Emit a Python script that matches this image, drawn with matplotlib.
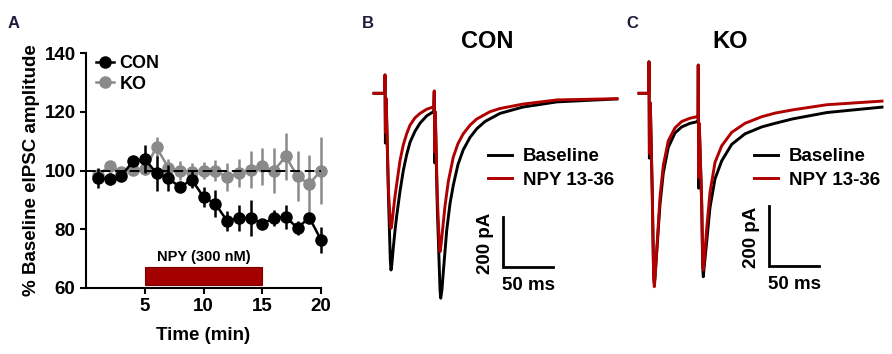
import matplotlib
matplotlib.use("Agg")
from matplotlib import pyplot as plt
from matplotlib.patches import Rectangle
from matplotlib.lines import Line2D

plt.rcParams['font.family'] = ['Liberation Sans', 'DejaVu Sans']
plt.rcParams['font.weight'] = 'bold'

# panel A: time course (% baseline eIPSC amplitude)
minutes = list(range(1, 21))
con_mean = [97.4, 97.2, 98.2, 103.1, 103.9, 99.1, 97.4, 94.3, 96.9, 91.0,
            88.7, 82.9, 83.8, 83.8, 81.9, 83.8, 84.2, 80.4, 84.0, 76.4]
con_sem = [3.4, 2.0, 1.0, 1.5, 4.8, 6.0, 4.5, 1.7, 3.0, 3.4,
           4.5, 3.4, 4.3, 6.2, 1.0, 2.8, 4.0, 2.5, 1.5, 4.5]
ko_mean = [98.5, 101.4, 99.5, 100.3, 100.5, 107.9, 101.0, 100.0, 99.5, 100.0,
           100.0, 97.7, 99.1, 100.3, 101.4, 100.0, 104.8, 98.0, 95.4, 100.0]
ko_sem = [2.0, 1.0, 1.0, 1.5, 2.0, 3.4, 3.0, 3.4, 3.0, 3.0,
          3.7, 4.8, 4.8, 6.2, 6.2, 7.7, 8.0, 8.5, 10.0, 11.3]
drug_start, drug_end = 5, 15
drug_label = "NPY (300 nM)"

# panel B: CON example traces (time in ms, current in pA)
con_base_t = [-11, -0.3, 0, 0.4, 0.9, 1.5, 3.5, 5.3, 6, 6.8, 8.3, 10, 11.7, 15, 18.3, 21.7,
              25, 30, 35, 41.7, 48.8, 49.3, 49.7, 50.3, 52.3, 55, 55.7, 57, 58.3, 61.7,
              65, 68.3, 73, 78.3, 85, 91.7, 100, 115, 138, 172, 232]
con_base = [0, 0, 75, -203, -20, -80, -430, -680, -721, -700, -630, -560, -500, -400, -315, -250,
            -200, -155, -122, -92, -74, 7, -284, -90, -470, -800, -836, -800, -730, -560,
            -450, -375, -290, -230, -180, -145, -115, -82, -56, -35, -23]
con_npy_t = [-11, -0.3, 0, 0.4, 0.9, 1.5, 3.5, 5.3, 6, 6.8, 8.3, 10, 11.7, 15, 18.3, 21.7,
             25, 30, 35, 41.7, 48.8, 49.3, 49.7, 50.3, 52.3, 54.3, 55, 56, 57.5, 60,
             63.3, 68.3, 73, 78.3, 85, 91.7, 105, 115, 138, 172, 232]
con_npy = [0, 0, 75, -160, -20, -80, -400, -530, -551, -535, -480, -420, -370, -275, -210, -165,
           -130, -100, -82, -65, -55, 10, -240, -75, -420, -620, -646, -620, -560, -460,
           -360, -260, -205, -165, -130, -105, -75, -62, -44, -27, -22]

# panel C: KO example traces (time in ms, current in pA)
ko_t = [-10, -0.3, 0, 0.4, 0.9, 1.5, 3.3, 4.6, 5.3, 6, 7.7, 11, 14.3, 19.3, 26, 32.7,
        41, 47.7, 49, 49.3, 49.7, 50.3, 52.7, 53.7, 54.3, 55, 57.7, 61, 66, 72.7,
        82.7, 96, 112.7, 126, 144, 178, 233]
ko_base = [0, 0, 105, -216, -30, -60, -339, -600, -633, -610, -530, -370, -265, -180, -132, -112,
           -100, -95, -93, 94, -316, -110, -372, -580, -611, -585, -494, -380, -285, -225,
           -170, -135, -112, -100, -85, -64, -46]
ko_npy = [0, 0, 105, -200, -30, -60, -339, -610, -644, -620, -525, -345, -240, -158, -115, -94,
          -83, -78, -76, 94, -280, -100, -360, -560, -588, -565, -450, -330, -230, -175,
          -130, -100, -78, -66, -55, -38, -26]

scale_pa = 200
scale_ms = 50

W, H = 892, 354
RED = '#b00000'
GRAY = '#8a8a8a'


def px_axes(x0, y0, x1, y1):
    # pixel box (top-left origin) -> figure axes
    return fig.add_axes([x0 / W, 1 - y1 / H, (x1 - x0) / W, (y1 - y0) / H])


fig = plt.figure(figsize=(W / 100, H / 100), dpi=100)

# ---- A ----
ax = px_axes(86, 53, 321, 288)
ax.errorbar(minutes, ko_mean, yerr=ko_sem, fmt='o-', color=GRAY, ms=8, lw=1.8,
            elinewidth=1.8, capsize=0, zorder=2, clip_on=False)
ax.axhline(100, color='k', ls='--', lw=1.4, dashes=(5, 2.5), zorder=3)
ax.errorbar(minutes, con_mean, yerr=con_sem, fmt='o-', color='k', ms=8, lw=1.8,
            elinewidth=1.8, capsize=0, zorder=4, clip_on=False)
ax.add_patch(Rectangle((drug_start, 61), drug_end - drug_start, 6,
                       facecolor='#a40000', edgecolor='#7a0000', lw=0.8, zorder=5))
ax.text((drug_start + drug_end) / 2, 68.3, drug_label, ha='center', va='bottom',
        fontsize=10.5, fontweight='bold')
ax.set_xlim(0, 20)
ax.set_ylim(60, 140)
ax.set_xticks([5, 10, 15, 20])
ax.set_yticks([60, 80, 100, 120, 140])
ax.tick_params(labelsize=13.5, width=1.5, length=4, direction='out')
for lab in ax.get_xticklabels() + ax.get_yticklabels():
    lab.set_fontweight('bold')
for s in ['top', 'right']:
    ax.spines[s].set_visible(False)
for s in ['left', 'bottom']:
    ax.spines[s].set_linewidth(1.5)
ax.set_xlabel('Time (min)', fontsize=13.5, fontweight='bold', labelpad=8)
ax.set_ylabel('% Baseline eIPSC amplitude', fontsize=13.5, fontweight='bold', labelpad=3)
handles = [Line2D([], [], color='k', marker='o', ms=8, lw=1.8),
           Line2D([], [], color=GRAY, marker='o', ms=8, lw=1.8)]
ax.legend(handles, ['CON', 'KO'], loc='upper left', bbox_to_anchor=(10 / 235, 1 - 2 / 235),
          frameon=False, fontsize=13, handlelength=1.0, handletextpad=0.3,
          labelspacing=0.2, borderpad=0, borderaxespad=0)

# ---- B / C ----
panels = [
    (con_base_t, con_base, con_npy_t, con_npy, 385, 4.08, 365, 625, 118, 'CON', 487),
    (ko_t, ko_base, ko_t, ko_npy, 649, 3.33, 630, 892, 120, 'KO', 730),
]
for tb, base, tn, npy, tx0, k, x0, x1, bar_t, title, title_x in panels:
    y0, y1, base_y = 50, 315, 93.3
    tax = px_axes(x0, y0, x1, y1)
    tax.plot(tb, base, color='k', lw=2.1, label='Baseline')
    tax.plot(tn, npy, color=RED, lw=2.1, label='NPY 13-36')
    tax.set_xlim(x0 - tx0, x1 - tx0)
    tax.set_ylim(-(y1 - base_y) * k, -(y0 - base_y) * k)
    tax.axis('off')
    # scale bars
    bar_bottom = -(266.5 - base_y) * k
    tax.plot([bar_t, bar_t, bar_t + scale_ms],
             [bar_bottom + scale_pa, bar_bottom, bar_bottom],
             color='k', lw=2.0, solid_joinstyle='miter', clip_on=False)
    tax.text(bar_t - 9, bar_bottom + scale_pa / 2 - 1 * k, f'{scale_pa} pA', rotation=90,
             ha='right', va='center', fontsize=13.5, fontweight='bold')
    tax.text(bar_t + 26, bar_bottom - 10 * k, f'{scale_ms} ms', ha='center', va='top',
             fontsize=13.5, fontweight='bold')
    fig.legend(*tax.get_legend_handles_labels(), loc='upper left',
               bbox_to_anchor=((tx0 + bar_t - 15) / W, 1 - 148 / H),
               frameon=False, fontsize=13.5, handlelength=1.3, handletextpad=0.55,
               labelspacing=0.35, borderpad=0, borderaxespad=0)
    fig.text(title_x / W, 1 - 42 / H, title, ha='center', va='center',
             fontsize=17, fontweight='bold')

for letter, x in [('A', 8), ('B', 362), ('C', 626)]:
    fig.text(x / W, 1 - 24 / H, letter, ha='left', va='center', fontsize=12,
             fontweight='bold', color='#1c1c3c')

fig.savefig('out.png', dpi=100)
